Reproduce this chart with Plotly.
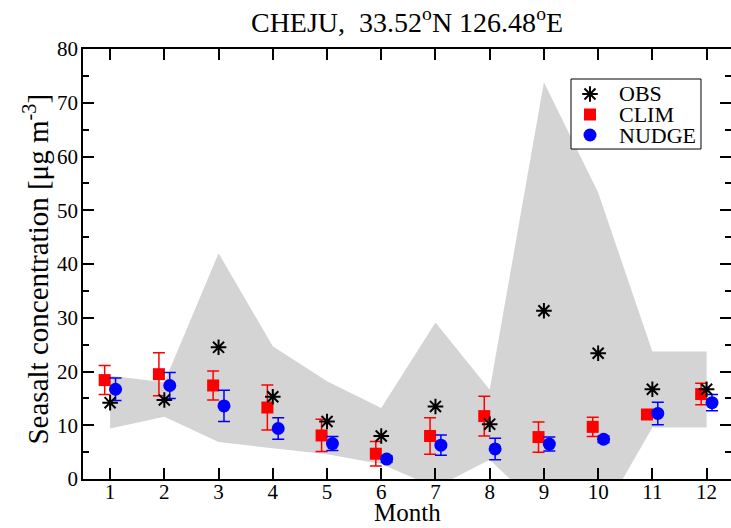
import plotly.graph_objects as go

# Monthly sea-salt concentrations at Cheju (µg m-3)
months = [1, 2, 3, 4, 5, 6, 7, 8, 9, 10, 11, 12]
obs = [14.2, 14.7, 24.5, 15.3, 10.7, 8.0, 13.5, 10.2, 31.3, 23.4, 16.7, 16.7]
obs_max = [19.2, 18.0, 42.0, 24.7, 18.2, 13.2, 29.1, 16.6, 73.8, 53.3, 23.7, 23.7]
obs_min = [9.4, 11.6, 6.9, 5.7, 4.6, 2.8, -1.6, 3.6, -6.0, -8.0, 9.6, 9.6]
clim = [18.4, 19.5, 17.4, 13.3, 8.1, 4.7, 8.0, 11.7, 7.8, 9.7, 12.0, 15.8]
clim_err = [2.7, 4.0, 2.7, 4.2, 3.0, 2.3, 3.4, 3.7, 2.8, 1.8, 0.8, 2.0]
nudge = [16.7, 17.4, 13.6, 9.4, 6.6, 3.7, 6.3, 5.6, 6.5, 7.4, 12.2, 14.2]
nudge_err = [2.1, 2.4, 2.9, 2.0, 1.3, 0.6, 1.9, 2.0, 1.3, 0.6, 2.1, 1.5]
month_ticks = [str(m) for m in months]
y_ticks = list(range(0, 81, 10))
series_names = ["OBS", "CLIM", "NUDGE"]

FONT = "Liberation Serif"
RED = "#ff0000"
BLUE = "#0000ff"
shift = 0.1  # side-by-side offset of the two model series

fig = go.Figure()

# observed min/max envelope
fig.add_trace(go.Scatter(
    x=months + months[::-1],
    y=obs_max + obs_min[::-1],
    fill="toself", fillcolor="#d4d4d4", mode="none",
    hoverinfo="skip", showlegend=False,
))

fig.add_trace(go.Scatter(
    x=[m - shift for m in months], y=clim, mode="markers", name=series_names[1],
    marker=dict(symbol="square", size=12, color=RED),
    error_y=dict(type="data", array=clim_err, color=RED, thickness=1.5, width=6),
    showlegend=False,
))
fig.add_trace(go.Scatter(
    x=[m + shift for m in months], y=nudge, mode="markers", name=series_names[2],
    marker=dict(symbol="circle", size=13, color=BLUE),
    error_y=dict(type="data", array=nudge_err, color=BLUE, thickness=1.5, width=6),
    showlegend=False,
))
fig.add_trace(go.Scatter(
    x=months, y=obs, mode="markers", name=series_names[0],
    marker=dict(symbol="asterisk-open", size=13, color="black",
                line=dict(color="black", width=2)),
    showlegend=False,
))

# invisible trace so the right-hand tick axis is rendered
fig.add_trace(go.Scatter(x=[months[0]], y=[0], yaxis="y2", mode="markers",
                         marker=dict(opacity=0), hoverinfo="skip", showlegend=False))

# legend key drawn in its own small box
key_y = [0.786, 0.493, 0.2]
key_styles = [
    dict(symbol="asterisk-open", size=13, color="black", line=dict(color="black", width=2)),
    dict(symbol="square", size=12, color=RED),
    dict(symbol="circle", size=13, color=BLUE),
]
for ky, style in zip(key_y, key_styles):
    fig.add_trace(go.Scatter(x=[0.146], y=[ky], xaxis="x3", yaxis="y3", mode="markers",
                             marker=style, hoverinfo="skip", showlegend=False))

annotations = []
for ky, name in zip(key_y, series_names):
    annotations.append(dict(x=0.354, y=ky, xref="x3", yref="y3", text=name,
                            showarrow=False, xanchor="left", yanchor="middle",
                            font=dict(family=FONT, size=22, color="black")))

annotations.append(dict(
    x=0.5, y=-0.114, xref="paper", yref="paper", text="Month", showarrow=False,
    xanchor="center", yanchor="bottom", font=dict(family=FONT, size=25, color="black")))
annotations.append(dict(
    x=-0.072, y=0.488, xref="paper", yref="paper",
    text="Seasalt concentration [μg m<sup>-3</sup>]", showarrow=False, textangle=-90,
    xanchor="center", yanchor="middle", font=dict(family=FONT, size=29, color="black")))

axis_common = dict(showgrid=False, zeroline=False, linecolor="black", linewidth=1.5,
                   tickcolor="black", tickwidth=1.5, ticks="inside",
                   tickfont=dict(family=FONT, size=21, color="black"))

fig.update_layout(
    width=731, height=528,
    margin=dict(l=83, r=0, t=49, b=49),
    paper_bgcolor="white", plot_bgcolor="white",
    title=dict(text="CHEJU,\u00a0\u00a033.52<sup>o</sup>N 126.48<sup>o</sup>E",
               x=0.5, xref="paper", xanchor="center",
               y=0.958, yref="container", yanchor="middle",
               font=dict(family=FONT, size=28, color="black")),
    xaxis=dict(range=[0.5, 12.45], tickmode="array", tickvals=months, ticktext=month_ticks,
               ticklen=11, showline=True, mirror="ticks", ticklabelstandoff=-7,
               **axis_common),
    yaxis=dict(range=[0, 80], tickmode="array", tickvals=y_ticks, ticklen=11,
               showline=True, mirror=False, ticklabelstandoff=-1,
               minor=dict(dtick=5, ticklen=6, ticks="inside", tickcolor="black",
                          tickwidth=1.5, showgrid=False),
               **axis_common),
    yaxis2=dict(range=[0, 80], overlaying="y", side="right", anchor="x",
                showticklabels=False, showline=False, showgrid=False, zeroline=False,
                ticks="inside", tickmode="array", tickvals=y_ticks, ticklen=11,
                tickcolor="black", tickwidth=1.5,
                minor=dict(dtick=5, ticklen=6, ticks="inside", tickcolor="black",
                           tickwidth=1.5, showgrid=False)),
    xaxis3=dict(domain=[0.7531, 0.9537], range=[0, 1], anchor="y3", visible=False,
                fixedrange=True),
    yaxis3=dict(domain=[0.7674, 0.9302], range=[0, 1], anchor="x3", visible=False,
                fixedrange=True),
    shapes=[dict(type="rect", xref="x3 domain", yref="y3 domain", x0=0, x1=1, y0=0, y1=1,
                 line=dict(color="black", width=1), fillcolor="rgba(0,0,0,0)")],
    annotations=annotations,
    showlegend=False,
)

fig.write_html("out.html")
